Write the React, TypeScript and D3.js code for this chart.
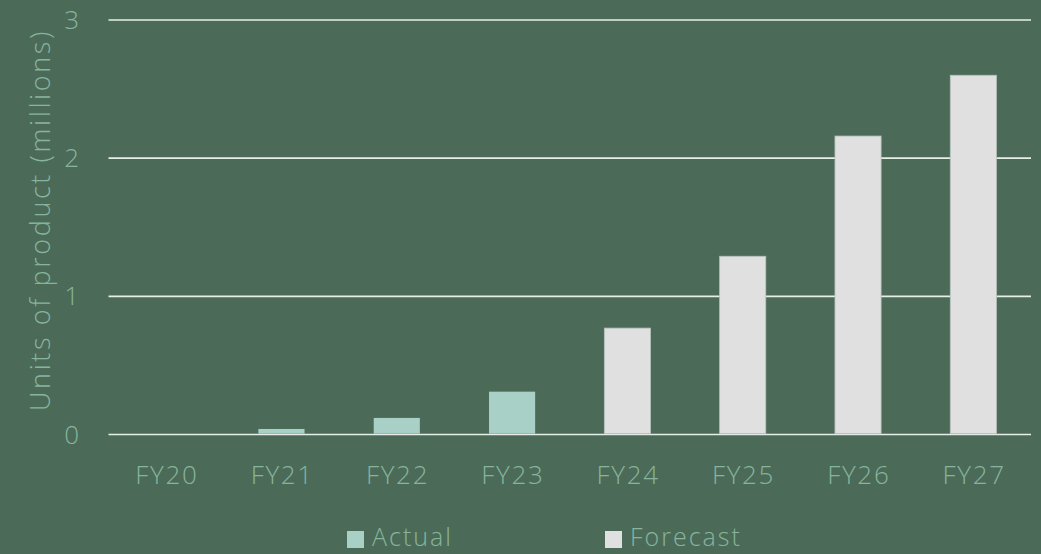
import React from "react";
import * as d3 from "d3";

const years = ["FY20", "FY21", "FY22", "FY23", "FY24", "FY25", "FY26", "FY27"];
const actual = [0, 0.04, 0.12, 0.31, null, null, null, null];
const forecast = [null, null, null, null, 0.77, 1.29, 2.16, 2.6];
const yTicks = [0, 1, 2, 3];

const W = 1041, H = 554;
const bg = "#4b6b58";
const textCol = "#87b49e";
const font = "'Open Sans', sans-serif";

export default function App() {
  const x = d3.scaleBand().domain(years).range([108.5, 1031]);
  const y = d3.scaleLinear().domain([0, 3]).range([434.5, 20]);
  const bw = x.step() * 0.4;

  return (
    <svg width={W} height={H} style={{ position: "absolute", left: 0, top: 0, background: bg }}>
      <rect width={W} height={H} fill={bg} />
      {yTicks.map(t => (
        <g key={t}>
          <line x1={108.5} x2={1031} y1={y(t)} y2={y(t)} stroke="#e6eee8" strokeWidth={1.6} />
          <text x={79} y={y(t) + 9} textAnchor="end" fill={textCol} fontFamily={font} fontWeight={300} fontSize={26}>{t}</text>
        </g>
      ))}
      {years.map((yr, i) => {
        const cx = x(yr)! + x.step() / 2;
        const a = actual[i], f = forecast[i];
        return (
          <g key={yr}>
            {a != null && a > 0 && (
              <rect x={cx - bw / 2} y={y(a)} width={bw} height={y(0) - y(a) - 0.8} fill="#a9d0c6" />
            )}
            {f != null && (
              <rect x={cx - bw / 2} y={y(f)} width={bw} height={y(0) - y(f) - 0.8} fill="#e0e0e0" stroke="#b8c2bc" strokeWidth={0.8} />
            )}
            <text x={cx + 0.8} y={484} textAnchor="middle" fill={textCol} fontFamily={font} fontWeight={300} fontSize={26} letterSpacing={1.7}>{yr}</text>
          </g>
        );
      })}
      <text transform={`translate(50,220) rotate(-90)`} textAnchor="middle" fill={textCol} fontFamily={font} fontWeight={300} fontSize={27} letterSpacing={2.6}>
        Units of product (millions)
      </text>
      <rect x={347} y={531} width={17} height={17} fill="#a9d0c6" />
      <text x={372} y={546} fill={textCol} fontFamily={font} fontWeight={300} fontSize={25} letterSpacing={2}>Actual</text>
      <rect x={605} y={531} width={17} height={17} fill="#e0e0e0" />
      <text x={630} y={546} fill={textCol} fontFamily={font} fontWeight={300} fontSize={25} letterSpacing={2}>Forecast</text>
    </svg>
  );
}
